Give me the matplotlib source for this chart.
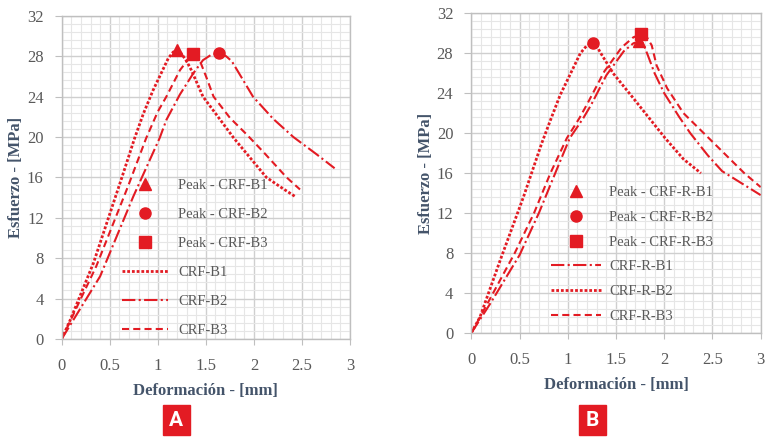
import matplotlib
matplotlib.use("Agg")
import matplotlib.pyplot as plt
from matplotlib.patches import Rectangle
from matplotlib.ticker import MultipleLocator

# ---------------- Data: panel A ----------------
a_b1_x = [0, 0.09, 0.33, 0.62, 0.76, 0.85, 0.95, 1.03, 1.11, 1.16, 1.20, 1.25, 1.30, 1.35,
          1.47, 1.65, 1.79, 2.13, 2.30, 2.43]
a_b1_y = [0, 1.9, 7.5, 15.8, 19.9, 22.3, 24.6, 26.2, 27.8, 28.4, 28.6, 28.2, 27.5, 26.6,
          24.0, 21.7, 19.9, 16.0, 14.9, 14.1]
a_b2_x = [0, 0.40, 0.745, 1.02, 1.09, 1.23, 1.37, 1.47, 1.55, 1.64, 1.71, 1.77, 1.89, 1.99,
          2.20, 2.41, 2.65, 2.84]
a_b2_y = [0, 6.2, 14.1, 19.9, 21.7, 24.2, 26.3, 27.6, 28.1, 28.3, 28.0, 27.5, 25.6, 24.0,
          21.8, 20.0, 18.3, 16.9]
a_b3_x = [0, 0.36, 0.69, 0.88, 1.00, 1.09, 1.23, 1.31, 1.37, 1.41, 1.44, 1.51, 1.58, 1.75,
          1.93, 2.10, 2.34, 2.48]
a_b3_y = [0, 7.2, 15.1, 19.9, 22.5, 24.0, 26.6, 27.6, 28.2, 28.0, 27.5, 25.8, 24.0, 21.9,
          20.2, 18.5, 16.0, 14.8]
a_peak_x = [1.20, 1.64, 1.37]
a_peak_y = [28.6, 28.3, 28.2]
a_peak_labels = ["Peak - CRF-B1", "Peak - CRF-B2", "Peak - CRF-B3"]
a_line_labels = ["CRF-B1", "CRF-B2", "CRF-B3"]

# ---------------- Data: panel B ----------------
b_b1_x = [0, 0.20, 0.50, 0.70, 0.87, 1.02, 1.16, 1.24, 1.40, 1.58, 1.68, 1.74, 1.78, 1.83,
          1.90, 2.00, 2.15, 2.27, 2.45, 2.60, 2.80, 3.00]
b_b1_y = [0, 3.0, 7.8, 12.0, 16.0, 19.5, 21.5, 22.8, 25.8, 28.2, 29.0, 29.2, 29.0, 27.8,
          26.0, 24.0, 21.7, 20.0, 17.8, 16.2, 15.0, 13.8]
b_b2_x = [0, 0.09, 0.30, 0.54, 0.73, 0.82, 0.92, 1.04, 1.13, 1.20, 1.26, 1.30, 1.33, 1.47,
          1.68, 2.01, 2.20, 2.38]
b_b2_y = [0, 1.6, 7.3, 13.6, 19.0, 21.3, 23.8, 26.2, 28.0, 28.8, 29.0, 28.8, 28.2, 26.0,
          23.5, 19.5, 17.4, 16.0]
b_b3_x = [0, 0.17, 0.45, 0.65, 0.82, 0.99, 1.12, 1.20, 1.38, 1.56, 1.68, 1.76, 1.82, 1.87,
          1.92, 2.03, 2.20, 2.41, 2.62, 2.83, 3.00]
b_b3_y = [0, 3.0, 8.0, 12.0, 16.0, 19.5, 21.5, 22.9, 26.2, 28.6, 29.6, 29.9, 29.6, 28.8,
          26.8, 24.5, 22.0, 20.0, 18.0, 16.0, 14.6]
b_peak_x = [1.74, 1.26, 1.76]
b_peak_y = [29.2, 29.0, 29.9]
b_peak_labels = ["Peak - CRF-R-B1", "Peak - CRF-R-B2", "Peak - CRF-R-B3"]
b_line_labels = ["CRF-R-B1", "CRF-R-B2", "CRF-R-B3"]

xticks = [0, 0.5, 1, 1.5, 2, 2.5, 3]
xtick_labels = ["0", "0.5", "1", "1.5", "2", "2.5", "3"]
yticks = [0, 4, 8, 12, 16, 20, 24, 28, 32]

RED = "#e31b23"
TXT = "#595959"
LAB = "#44546a"
SERIF = ["Liberation Serif", "DejaVu Serif"]

fig = plt.figure(figsize=(7.68, 4.37), dpi=100)
fig.patch.set_facecolor("white")

ax_a = fig.add_axes([0.0803, 0.2243, 0.3754, 0.7397])
ax_b = fig.add_axes([0.6137, 0.2380, 0.3768, 0.7315])

dotted = (0, (1, 0.7))
dashdot = (0, (6.4, 1.6, 1, 1.6))
dashed = (0, (3.4, 2.0))


def style(ax):
    ax.set_xlim(0, 3)
    ax.set_ylim(0, 32)
    ax.set_xticks(xticks)
    ax.set_xticklabels(xtick_labels)
    ax.set_yticks(yticks)
    ax.xaxis.set_minor_locator(MultipleLocator(0.1))
    ax.yaxis.set_minor_locator(MultipleLocator(0.8))
    ax.grid(which="major", color="#cfcfcf", lw=1.0)
    ax.grid(which="minor", color="#e6e6e6", lw=0.8)
    ax.set_axisbelow(True)
    for s in ax.spines.values():
        s.set_color("#bfbfbf")
        s.set_linewidth(1.0)
    ax.tick_params(axis="x", which="major", direction="out", length=4, color="#bfbfbf",
                   labelcolor=TXT, labelsize=12, pad=10)
    ax.tick_params(axis="y", which="major", direction="out", length=5, color="#bfbfbf",
                   labelcolor=TXT, labelsize=12, pad=8)
    ax.tick_params(which="minor", length=0)
    for lab in ax.get_xticklabels() + ax.get_yticklabels():
        lab.set_family(SERIF)
    ax.set_xlabel("Deformación - [mm]", fontsize=12, fontweight="bold",
                  color=LAB, family=SERIF, labelpad=6)
    ax.set_ylabel("Esfuerzo - [MPa]", fontsize=12, fontweight="bold",
                  color=LAB, family=SERIF, labelpad=2)


# Panel A
style(ax_a)
ha = []
ha.append(ax_a.plot(a_peak_x[0], a_peak_y[0], "^", color=RED, ms=8, ls="none")[0])
ha.append(ax_a.plot(a_peak_x[1], a_peak_y[1], "o", color=RED, ms=8, ls="none")[0])
ha.append(ax_a.plot(a_peak_x[2], a_peak_y[2], "s", color=RED, ms=8, ls="none")[0])
la1, = ax_a.plot(a_b1_x, a_b1_y, color=RED, lw=2, ls=dotted)
la2, = ax_a.plot(a_b2_x, a_b2_y, color=RED, lw=1.5, ls=dashdot)
la3, = ax_a.plot(a_b3_x, a_b3_y, color=RED, lw=1.5, ls=dashed)
ax_a.legend(ha + [la1, la2, la3], a_peak_labels + a_line_labels,
            loc="upper left", bbox_to_anchor=(0.209, 0.495), frameon=False,
            borderpad=0, borderaxespad=0,
            handlelength=3.15, labelspacing=1.08, handletextpad=0.69,
            prop={"family": SERIF, "size": 10.5}, labelcolor=TXT)

# Panel B
style(ax_b)
hb = []
hb.append(ax_b.plot(b_peak_x[0], b_peak_y[0], "^", color=RED, ms=8, ls="none")[0])
hb.append(ax_b.plot(b_peak_x[1], b_peak_y[1], "o", color=RED, ms=8, ls="none")[0])
hb.append(ax_b.plot(b_peak_x[2], b_peak_y[2], "s", color=RED, ms=8, ls="none")[0])
lb1, = ax_b.plot(b_b1_x, b_b1_y, color=RED, lw=1.5, ls=dashdot)
lb2, = ax_b.plot(b_b2_x, b_b2_y, color=RED, lw=2, ls=dotted)
lb3, = ax_b.plot(b_b3_x, b_b3_y, color=RED, lw=1.5, ls=dashed)
ax_b.legend(hb + [lb1, lb2, lb3], b_peak_labels + b_line_labels,
            loc="upper left", bbox_to_anchor=(0.275, 0.46), frameon=False,
            borderpad=0, borderaxespad=0,
            handlelength=3.43, labelspacing=0.79, handletextpad=0.55,
            prop={"family": SERIF, "size": 10.5}, labelcolor=TXT)

# Panel letters
for cx, letter in [(176, "A"), (592, "B")]:
    w, h = 27, 30
    fig.patches.append(Rectangle(((cx - w / 2) / 768, 2 / 437), w / 768, h / 437,
                                 transform=fig.transFigure, color=RED, zorder=5))
    fig.text(cx / 768, 17 / 437, letter, ha="center", va="center", color="white",
             fontsize=15, fontweight="bold", family=["Roboto", "DejaVu Sans"],
             zorder=6)

fig.savefig("out.png", dpi=100, facecolor="white")
